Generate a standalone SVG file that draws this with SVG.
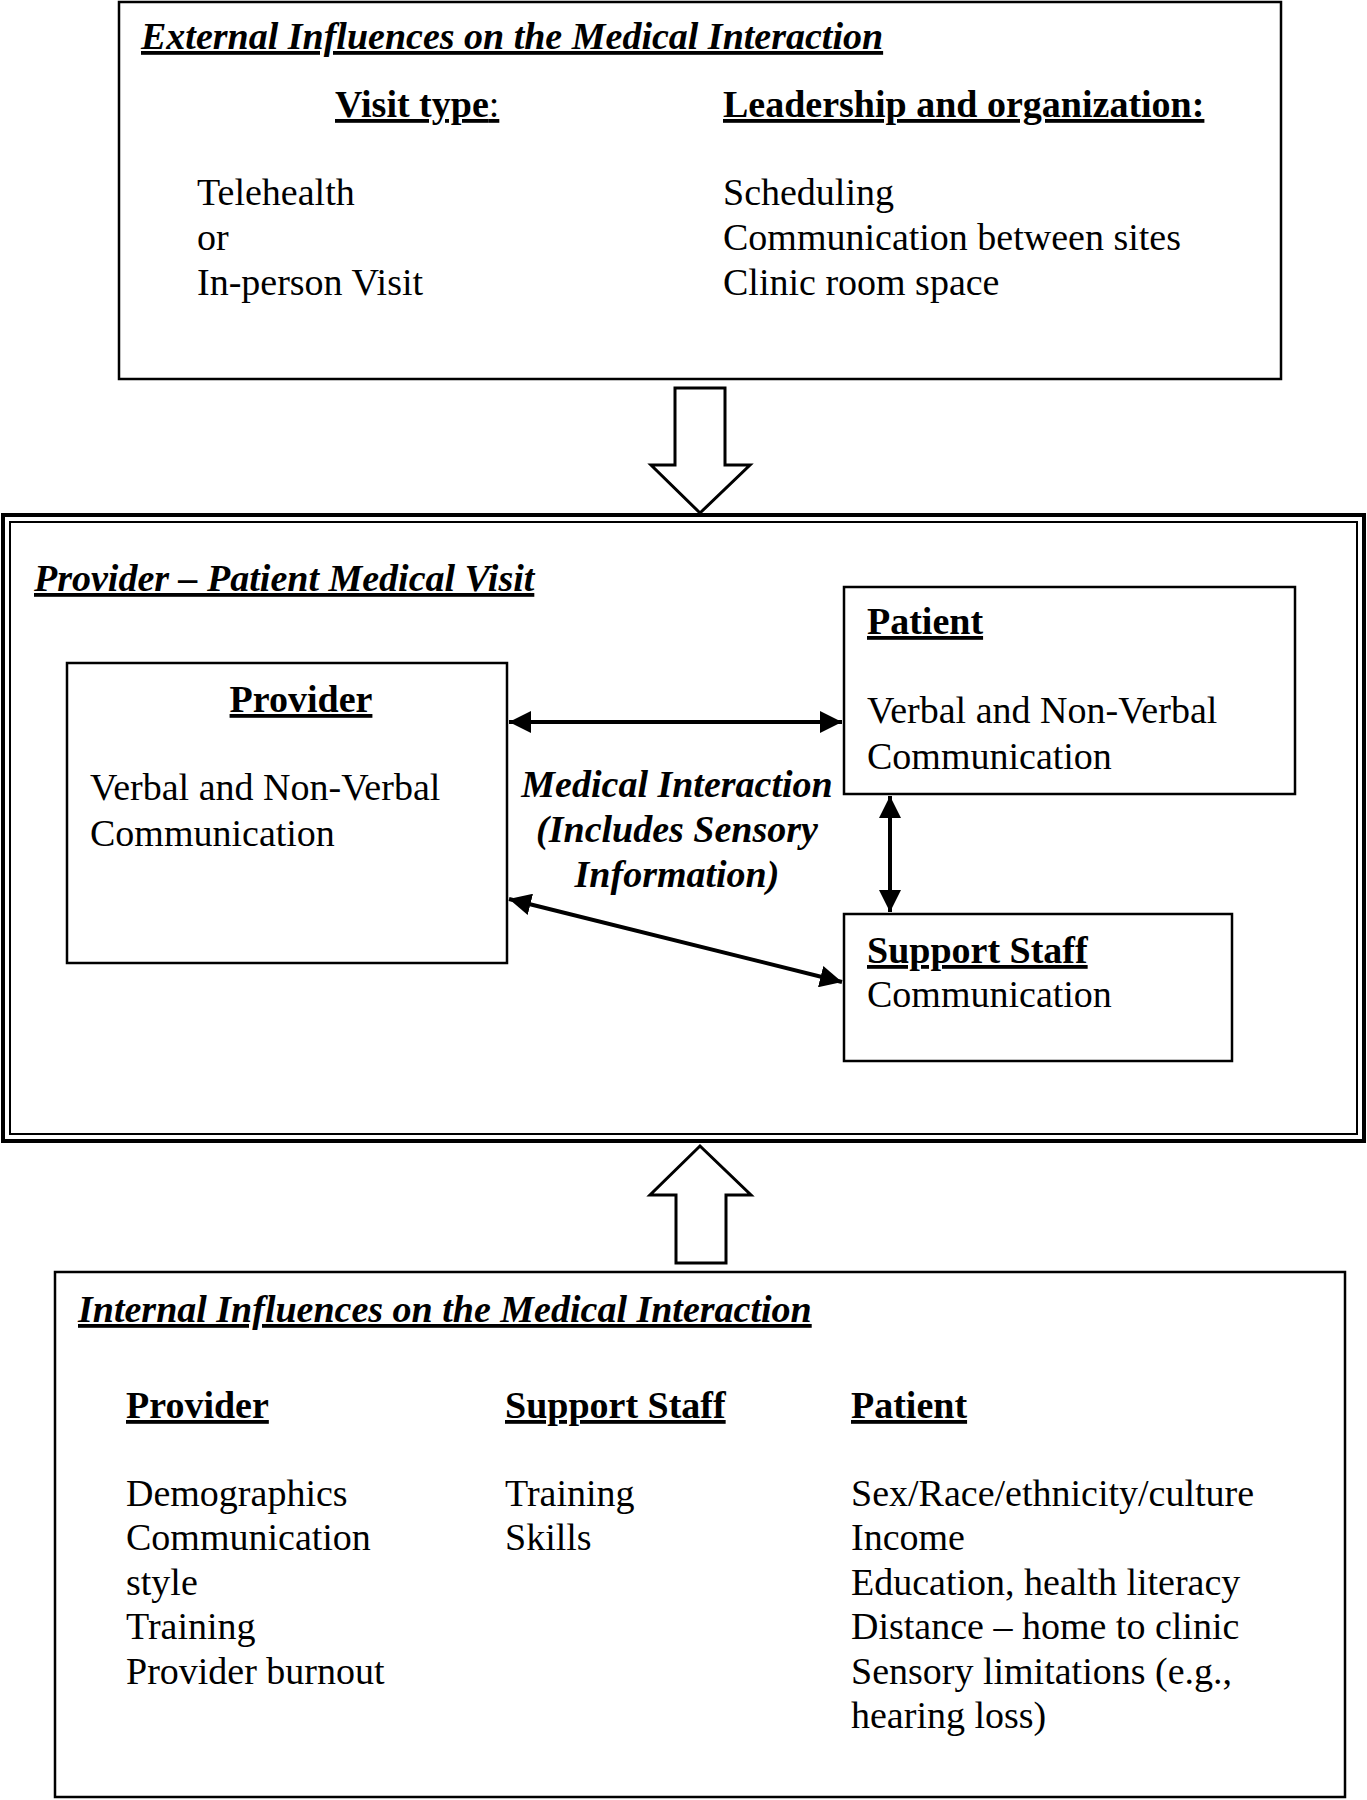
<svg xmlns="http://www.w3.org/2000/svg" width="1367" height="1800" viewBox="0 0 1367 1800">
<defs>
<style>
text{font-family:"Liberation Serif","Times New Roman",serif;font-size:38px;fill:#000}
.b{font-weight:bold}
.bi{font-weight:bold;font-style:italic}
.u{text-decoration:underline}
.box{fill:#fff;stroke:#000;stroke-width:2.5}
.blk{fill:#fff;stroke:#000;stroke-width:3}
.con{stroke:#000;stroke-width:4;fill:none;marker-start:url(#ah);marker-end:url(#ah)}
</style>
<marker id="ah" viewBox="0 0 10 10" refX="10" refY="5" markerWidth="5.5" markerHeight="5.5" orient="auto-start-reverse" markerUnits="strokeWidth">
<path d="M0,0 L10,5 L0,10 z" fill="#000"/>
</marker>
</defs>
<rect width="1367" height="1800" fill="#fff"/>

<g id="external">
<rect class="box" x="119" y="2" width="1162" height="377"/>
<text x="141" y="49" class="bi u">External Influences on the Medical Interaction</text>
<text x="335" y="117" class="b u">Visit type<tspan font-weight="normal">:</tspan></text>
<text x="197" y="205">Telehealth</text>
<text x="197" y="250">or</text>
<text x="197" y="295">In-person Visit</text>
<text x="723" y="117" class="b u">Leadership and organization:</text>
<text x="723" y="205">Scheduling</text>
<text x="723" y="250">Communication between sites</text>
<text x="723" y="295">Clinic room space</text>
</g>

<g id="arrow-down">
<polygon class="blk" points="675,388 725,388 725,465 750,465 700,513 651,465 675,465"/>
</g>

<g id="visit">
<rect x="3" y="515" width="1361" height="626" fill="#fff" stroke="#000" stroke-width="4"/>
<rect x="10" y="522" width="1347" height="612" fill="none" stroke="#000" stroke-width="2"/>
<text x="34" y="591" class="bi u">Provider – Patient Medical Visit</text>
</g>

<g id="provider">
<rect class="box" x="67" y="663" width="440" height="300"/>
<text x="301" y="712" class="b u" text-anchor="middle">Provider</text>
<text x="90" y="800">Verbal and Non-Verbal</text>
<text x="90" y="846">Communication</text>
</g>

<g id="patient">
<rect class="box" x="844" y="587" width="451" height="207"/>
<text x="867" y="634" class="b u">Patient</text>
<text x="867" y="723">Verbal and Non-Verbal</text>
<text x="867" y="769">Communication</text>
</g>

<g id="support-staff">
<rect class="box" x="844" y="914" width="388" height="147"/>
<text x="867" y="963" class="b u">Support Staff</text>
<text x="867" y="1007">Communication</text>
</g>

<g id="interaction-label">
<text x="677" y="797" class="bi" text-anchor="middle">Medical Interaction</text>
<text x="677" y="842" class="bi" text-anchor="middle">(Includes Sensory</text>
<text x="677" y="887" class="bi" text-anchor="middle">Information)</text>
</g>

<g id="connectors">
<line class="con" x1="509" y1="722" x2="842" y2="722"/>
<line class="con" x1="890" y1="796" x2="890" y2="912"/>
<line class="con" x1="509" y1="899" x2="842" y2="982"/>
</g>

<g id="arrow-up">
<polygon class="blk" points="700,1146 751,1195 726,1195 726,1263 676,1263 676,1195 650,1195"/>
</g>

<g id="internal">
<rect class="box" x="55" y="1272" width="1290" height="525"/>
<text x="78" y="1322" class="bi u">Internal Influences on the Medical Interaction</text>
<text x="126" y="1418" class="b u">Provider</text>
<text x="126" y="1506">Demographics</text>
<text x="126" y="1550">Communication</text>
<text x="126" y="1595">style</text>
<text x="126" y="1639">Training</text>
<text x="126" y="1684">Provider burnout</text>
<text x="505" y="1418" class="b u">Support Staff</text>
<text x="505" y="1506">Training</text>
<text x="505" y="1550">Skills</text>
<text x="851" y="1418" class="b u">Patient</text>
<text x="851" y="1506">Sex/Race/ethnicity/culture</text>
<text x="851" y="1550">Income</text>
<text x="851" y="1595">Education, health literacy</text>
<text x="851" y="1639">Distance – home to clinic</text>
<text x="851" y="1684">Sensory limitations (e.g.,</text>
<text x="851" y="1728">hearing loss)</text>
</g>
</svg>
